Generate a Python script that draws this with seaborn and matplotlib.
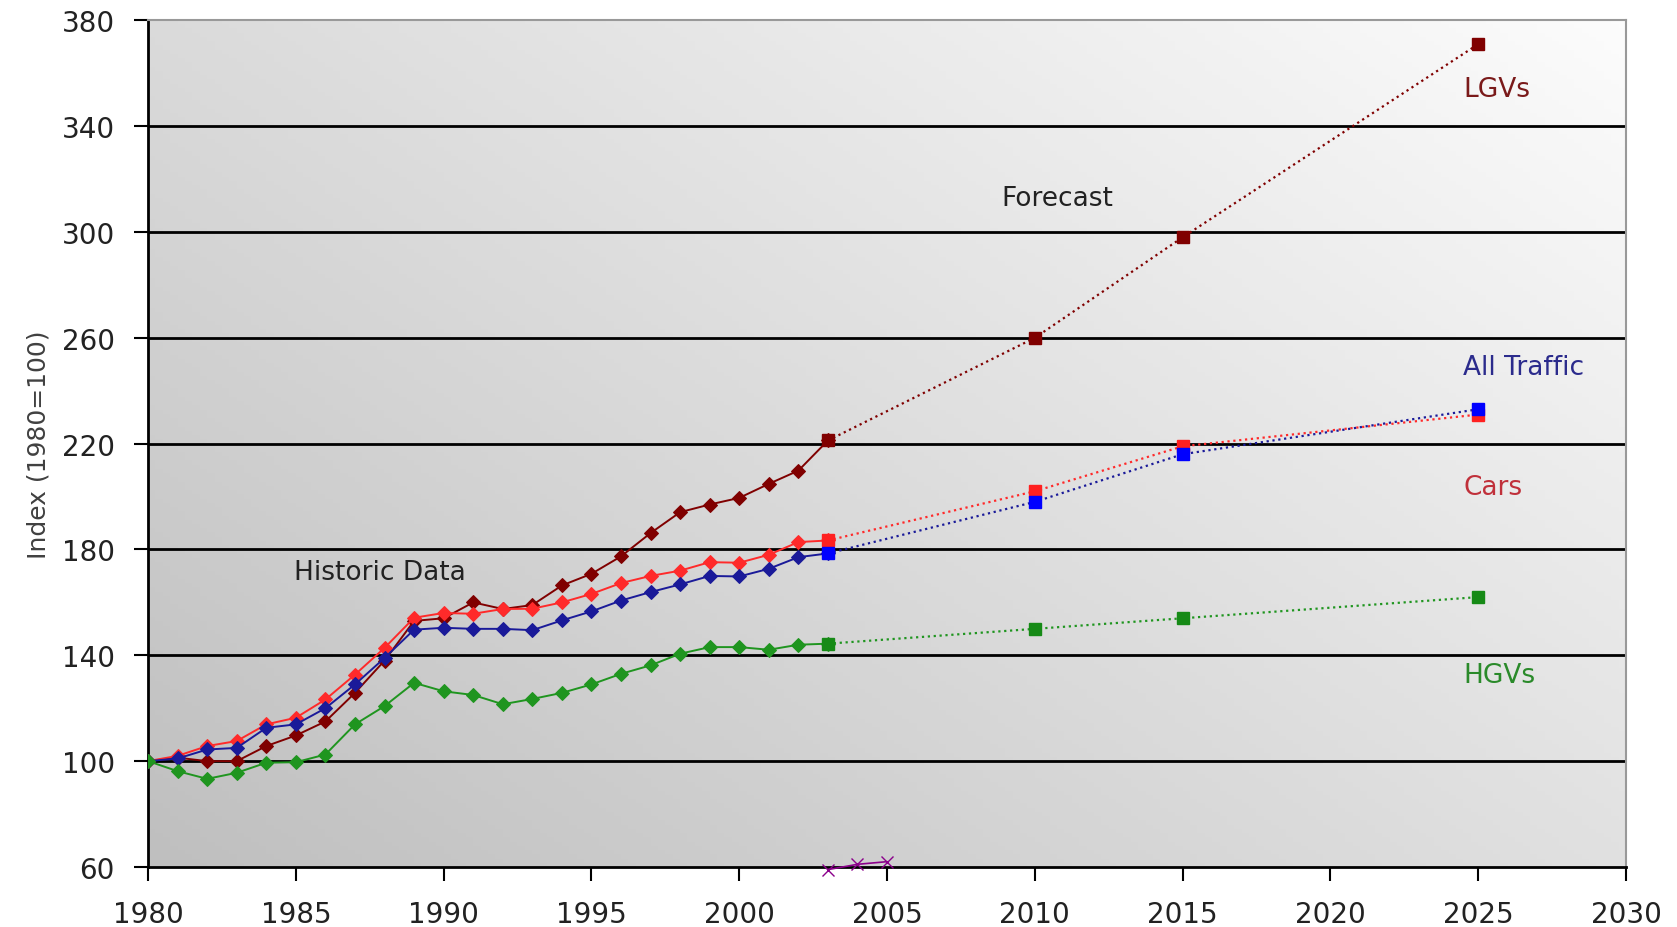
import numpy as np
import pandas as pd
import seaborn as sns
import matplotlib.pyplot as plt

sns.set_style("white")
plt.rcParams['font.family'] = ['DejaVu Sans']

# Historic data (index, 1980=100)
years_hist = list(range(1980, 2004))
lgvs = [100, 101.3, 100, 100, 105.7, 109.7, 115, 125.8, 138, 153, 154, 160,
        157.5, 159, 166.4, 170.8, 177.4, 186.2, 194.1, 197, 199.5, 204.8, 209.8, 221.2]
cars = [100, 102, 105.7, 107.6, 113.9, 116.4, 123.3, 132.7, 142.8, 154.2, 156, 155.7,
        157.5, 157.6, 160, 163.2, 167.3, 170, 172, 175.2, 175, 178, 182.8, 183.4]
all_traffic = [100, 101, 104.4, 105, 112.6, 113.9, 120, 129, 139, 149.7, 150.4, 150,
               150, 149.5, 153.2, 156.6, 160.7, 163.9, 166.8, 170, 169.8, 172.7, 177.1, 178.5]
hgvs = [100, 96.2, 93.3, 95.6, 99.4, 99.6, 102.5, 113.9, 120.8, 129.6, 126.4, 125,
        121.5, 123.5, 125.8, 129, 133, 136.2, 140.6, 143.1, 143.1, 142.1, 144, 144.4]

# Forecast
years_fc = [2003, 2010, 2015, 2025]
lgvs_fc = [221.2, 260, 298, 371]
cars_fc = [183.4, 202, 219, 231]
all_fc = [178.5, 198, 216, 233]
hgvs_fc = [144.4, 150, 154, 162]

# stray series near the axis
years_odd = [2003, 2004, 2005]
odd_vals = [59, 61, 62]

series = [
    ("LGVs", lgvs, lgvs_fc, "#800000", "#800000"),
    ("Cars", cars, cars_fc, "#ff2a2a", "#ff2020"),
    ("All Traffic", all_traffic, all_fc, "#1a1a99", "#0000ff"),
    ("HGVs", hgvs, hgvs_fc, "#1f951f", "#168a16"),
]

fig, ax = plt.subplots(figsize=(16.77, 9.28), dpi=100)
fig.subplots_adjust(left=0.0883, right=0.9696, bottom=0.0647, top=0.977)

# gradient background
gx, gy = np.meshgrid(np.linspace(0, 1, 200), np.linspace(0, 1, 200))
grad = 0.55 * gx + 0.45 * gy
ax.imshow(grad, extent=[0, 1, 0, 1], transform=ax.transAxes, origin="lower",
          cmap=plt.matplotlib.colors.LinearSegmentedColormap.from_list(
              "g", ["#bfbfbf", "#fcfcfc"]),
          aspect="auto", zorder=0)

for name, hist, fc, c_hist, c_fc in series:
    dfh = pd.DataFrame({"year": years_hist, "value": hist})
    sns.lineplot(data=dfh, x="year", y="value", ax=ax, color=c_hist, linewidth=1.4,
                 marker="D", markersize=7.5, markeredgecolor=c_hist, zorder=3)
    dff = pd.DataFrame({"year": years_fc, "value": fc})
    sns.lineplot(data=dff, x="year", y="value", ax=ax, color=c_hist, linewidth=1.6,
                 linestyle=":", zorder=2)
    ax.plot(years_fc, fc, linestyle="none", marker="s", markersize=9,
            color=c_fc, zorder=4)

ax.plot(years_odd, odd_vals, color="#8b008b", marker="x", markersize=8,
        linewidth=1.2, clip_on=False, zorder=5)

ax.set_xlim(1980, 2030)
ax.set_ylim(60, 380)
ax.set_xticks(range(1980, 2031, 5))
ax.set_yticks(range(60, 381, 40))
for yv in range(100, 341, 40):
    ax.axhline(yv, color="black", linewidth=2, zorder=1)

ax.set_xlabel("")
ax.set_ylabel("Index (1980=100)", fontsize=18, color="#404040", labelpad=8)
ax.tick_params(axis="both", direction="out", length=10, width=1.5, color="black",
               labelsize=20, labelcolor="#222222", left=True, bottom=True)
ax.tick_params(axis="x", pad=14)
ax.tick_params(axis="y", pad=14)

for s in ["left", "bottom"]:
    ax.spines[s].set_color("black")
    ax.spines[s].set_linewidth(2)
for s in ["top", "right"]:
    ax.spines[s].set_color("#999999")
    ax.spines[s].set_linewidth(1.5)

ax.text(2024.5, 354, "LGVs", color="#7a1a1a", fontsize=19, va="center")
ax.text(2024.5, 249, "All Traffic", color="#2b2b8c", fontsize=19, va="center")
ax.text(2024.5, 203.5, "Cars", color="#c0303a", fontsize=19, va="center")
ax.text(2024.5, 132.5, "HGVs", color="#2a8a2a", fontsize=19, va="center")
ax.text(2010.75, 313, "Forecast", color="#222222", fontsize=19, ha="center", va="center")
ax.text(1987.85, 171.5, "Historic Data", color="#222222", fontsize=19, ha="center",
        va="center")

fig.savefig("out.png", dpi=100)
